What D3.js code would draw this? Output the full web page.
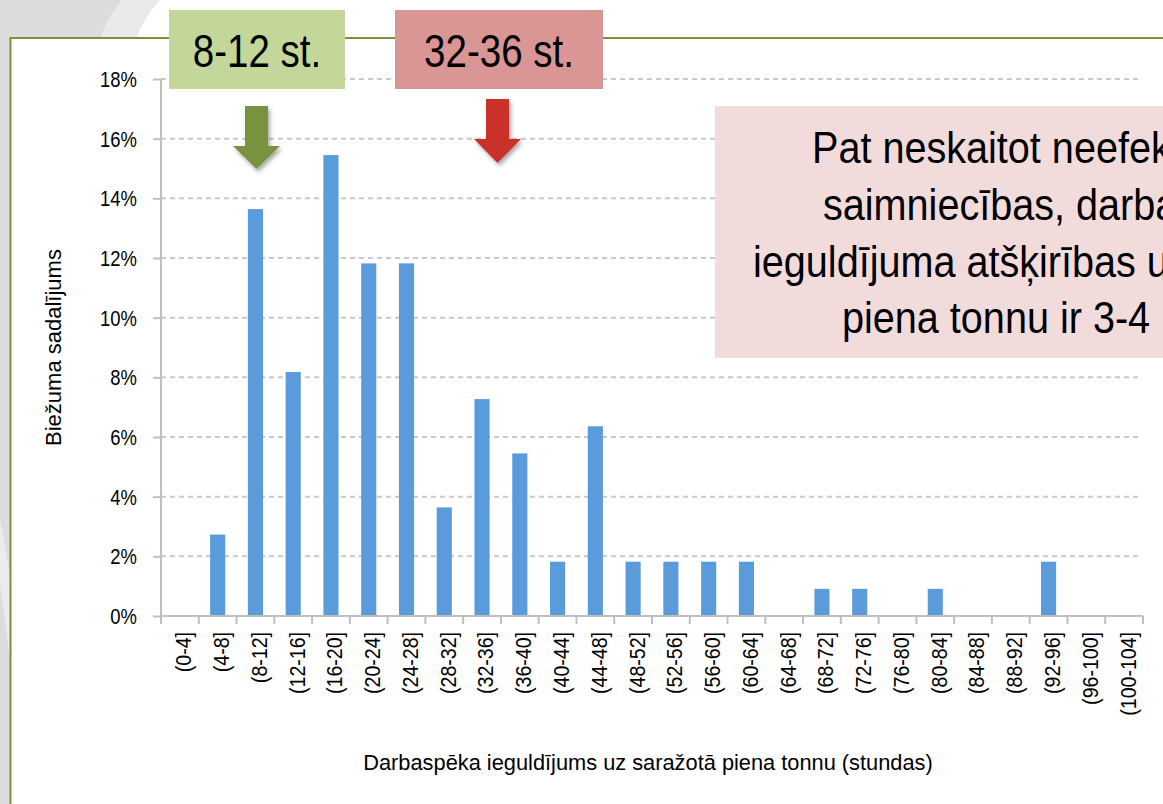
<!DOCTYPE html>
<html lang="lv">
<head>
<meta charset="UTF-8">
<title>Darbaspēka ieguldījums</title>
<script src="https://d3js.org/d3.v7.min.js"></script>
<style>
    html, body { margin: 0; padding: 0; overflow: hidden; background: #fff; }
    svg { display: block; font-family: "Liberation Sans", Arial, sans-serif; }
</style>
</head>
<body>
<svg id="chart" width="1163" height="804"></svg>
<script>
// interval labels (hours per tonne of milk)
const categories = ["(0-4]", "(4-8]", "(8-12]", "(12-16]", "(16-20]", "(20-24]", "(24-28]",
    "(28-32]", "(32-36]", "(36-40]", "(40-44]", "(44-48]", "(48-52]", "(52-56]", "(56-60]",
    "(60-64]", "(64-68]", "(68-72]", "(72-76]", "(76-80]", "(80-84]", "(84-88]", "(88-92]",
    "(92-96]", "(96-100]", "(100-104]"];
// frequency share, %
const shares = [0, 2.73, 13.64, 8.18, 15.45, 11.82, 11.82, 3.64, 7.27, 5.45, 1.82, 6.36,
    1.82, 1.82, 1.82, 1.82, 0, 0.91, 0.91, 0, 0.91, 0, 0, 1.82, 0, 0];
const yTicks = [0, 2, 4, 6, 8, 10, 12, 14, 16, 18];

const yTitle = "Biežuma sadalījums";
const xTitle = "Darbaspēka ieguldījums uz saražotā piena tonnu (stundas)";
const lowLabel = "8-12 st.";
const highLabel = "32-36 st.";
const noteLines = ["Pat neskaitot neefektīvākās", "saimniecības, darbaspēka",
    "ieguldījuma atšķirības uz saražoto", "piena tonnu ir 3-4 reizes"];

const svg = d3.select("#chart");
const W = 1163, H = 804;

// slide background
svg.append("rect").attr("width", W).attr("height", H).attr("fill", "#ffffff");
svg.append("path")
    .attr("d", "M0,0 L122,0 C110,15 104,28 100,40 L10,40 L10,804 L0,804 Z")
    .attr("fill", "#dcdcdc");
svg.append("path")
    .attr("d", "M122,0 L160,0 C150,12 140,26 136,40 L100,40 C104,28 110,15 122,0 Z")
    .attr("fill", "#e9e9e9");
svg.append("path")
    .attr("d", "M0,520 C4,540 8,560 10,580 L10,660 C6,630 3,600 0,585 Z")
    .attr("fill", "#ececec");

// chart frame
svg.append("rect")
    .attr("x", 10.5).attr("y", 38).attr("width", W + 20).attr("height", H + 20)
    .attr("fill", "#ffffff").attr("stroke", "#77933c").attr("stroke-width", 2);

const defs = svg.append("defs");
defs.append("filter").attr("id", "shadow")
    .attr("x", "-50%").attr("y", "-50%").attr("width", "200%").attr("height", "200%")
    .append("feDropShadow")
    .attr("dx", 2).attr("dy", 3).attr("stdDeviation", 2)
    .attr("flood-color", "#000").attr("flood-opacity", 0.35);

const plotLeft = 161, plotRight = 1143, plotTop = 79, plotBottom = 616;

const x = d3.scaleBand().domain(categories).range([plotLeft, plotRight])
    .paddingInner(0.6).paddingOuter(0.3);
const y = d3.scaleLinear().domain([0, 18]).range([plotBottom, plotTop]);

// dashed grid
svg.append("g").selectAll("line")
    .data(yTicks.filter(d => d > 0))
    .join("line")
    .attr("x1", plotLeft).attr("x2", plotRight - 2)
    .attr("y1", d => y(d)).attr("y2", d => y(d))
    .attr("stroke", "#c9c9c9").attr("stroke-width", 2)
    .attr("stroke-dasharray", "5,4");

// y axis
const yAxis = svg.append("g")
    .attr("transform", `translate(${plotLeft},0)`)
    .call(d3.axisLeft(y).tickValues(yTicks).tickSize(8).tickFormat(d => d + "%"));
yAxis.select(".domain").attr("stroke", "#bfbfbf").attr("stroke-width", 2)
    .attr("d", `M0,${plotTop}V${plotBottom}`);
yAxis.selectAll(".tick line").attr("stroke", "#bfbfbf").attr("stroke-width", 2).attr("x2", -8);
yAxis.selectAll(".tick text")
    .attr("x", null).attr("dy", "0.34em")
    .attr("transform", "translate(-24,0) scale(0.82,1)")
    .attr("font-size", 22.5).attr("fill", "#000")
    .attr("font-family", "'Liberation Sans', Arial, sans-serif");

// bars
svg.append("g").selectAll("rect")
    .data(categories.map((c, i) => ({ c, v: shares[i] })).filter(d => d.v > 0))
    .join("rect")
    .attr("x", d => x(d.c)).attr("width", x.bandwidth())
    .attr("y", d => y(d.v)).attr("height", d => y(0) - y(d.v))
    .attr("fill", "#5a9bdc");

// x axis
const gap = (x.step() - x.bandwidth()) / 2;
const xAxis = svg.append("g")
    .attr("transform", `translate(0,${plotBottom})`)
    .call(d3.axisBottom(x).tickSize(0));
xAxis.select(".domain").attr("stroke", "#bfbfbf").attr("stroke-width", 2)
    .attr("d", `M${plotLeft},0H${plotRight}`);
xAxis.selectAll(".tick text")
    .attr("y", 0).attr("dy", "0.35em")
    .attr("text-anchor", "end")
    .attr("transform", "translate(3.5,16) rotate(-90) scale(0.87,1)")
    .attr("font-size", 22.5).attr("fill", "#000")
    .attr("font-family", "'Liberation Sans', Arial, sans-serif");
xAxis.append("g").selectAll("line")
    .data(categories.map(c => x(c) - gap).concat([x(categories[categories.length - 1]) + x.bandwidth() + gap]))
    .join("line")
    .attr("x1", d => d).attr("x2", d => d)
    .attr("y1", 0).attr("y2", 8)
    .attr("stroke", "#bfbfbf").attr("stroke-width", 2);

// axis titles
svg.append("text")
    .attr("transform", `translate(61,${(plotTop + plotBottom) / 2}) rotate(-90)`)
    .attr("text-anchor", "middle")
    .attr("font-size", 22).attr("fill", "#000")
    .text(yTitle);
svg.append("text")
    .attr("x", (plotLeft + plotRight) / 2 - 4).attr("y", 770)
    .attr("text-anchor", "middle")
    .attr("font-size", 21.8).attr("fill", "#000")
    .text(xTitle);

// callout labels
function labelBox(x0, w, fill, txt) {
    svg.append("rect").attr("x", x0).attr("y", 10).attr("width", w).attr("height", 79)
        .attr("fill", fill);
    svg.append("text")
        .attr("transform", `translate(${x0 + w / 2},67) scale(0.82,1)`)
        .attr("text-anchor", "middle")
        .attr("font-size", 47).attr("fill", "#000")
        .text(txt);
}
labelBox(169, 176, "#c4d79b", lowLabel);
labelBox(395, 208, "#da9694", highLabel);

function arrow(cx, y0, y1, y2, color) {
    const p = d3.path();
    p.moveTo(cx - 11.5, y0);
    p.lineTo(cx + 11.5, y0);
    p.lineTo(cx + 11.5, y1);
    p.lineTo(cx + 23.5, y1);
    p.lineTo(cx, y2);
    p.lineTo(cx - 23.5, y1);
    p.lineTo(cx - 11.5, y1);
    p.closePath();
    svg.append("path").attr("d", p.toString()).attr("fill", color)
        .attr("filter", "url(#shadow)");
}
arrow(256.5, 106, 146, 169, "#77933c");
arrow(497.5, 99, 139, 163, "#c8332b");

// note box (runs off the right edge, as on the slide)
svg.append("rect").attr("x", 715).attr("y", 106).attr("width", 520).attr("height", 252)
    .attr("fill", "#f2dcdb");
const noteX = [812, 823, 753, 842];
const noteY = [163, 220, 277, 333];
noteLines.forEach((t, i) => {
    svg.append("text")
        .attr("transform", `translate(${noteX[i]},${noteY[i]}) scale(0.9,1)`)
        .attr("font-size", 44).attr("fill", "#000")
        .text(t);
});
</script>
</body>
</html>
